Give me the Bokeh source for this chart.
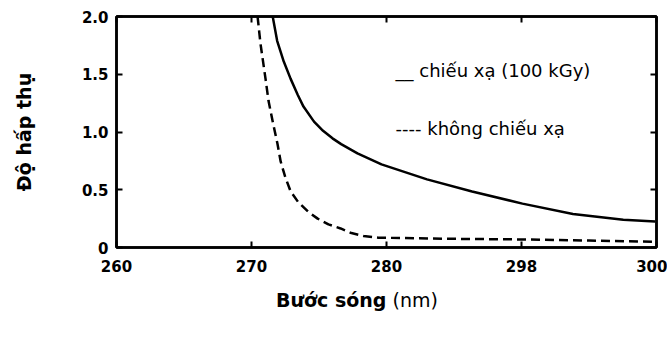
from bokeh.plotting import figure
from bokeh.models import Range1d, FixedTicker, LinearAxis, Label, Div
from bokeh.layouts import column
from bokeh.embed import file_html
from bokeh.resources import INLINE

# ---- data ----
irr_wl = [271.57, 271.9, 272.39, 272.9, 273.43, 273.85, 274.63, 275.3, 276.0, 276.64, 277.85, 279.63,
          283.0, 286.34, 290.07, 293.81, 297.54, 299.9]
irr_abs = [2.0, 1.79, 1.61, 1.46, 1.32, 1.22, 1.09, 1.01, 0.945, 0.895, 0.815, 0.72,
           0.59, 0.485, 0.38, 0.29, 0.24, 0.225]

non_wl = [270.45, 270.66, 271.04, 271.26, 271.57, 271.92, 272.16, 272.5, 272.9, 273.48, 274.2,
          274.9, 275.7, 276.6, 277.4, 278.3, 279.4, 285.0, 290.0, 295.0, 300.0]
non_abs = [2.0, 1.77, 1.46, 1.27, 1.09, 0.90, 0.745, 0.61, 0.485, 0.39, 0.31,
           0.25, 0.20, 0.165, 0.125, 0.10, 0.085, 0.075, 0.07, 0.06, 0.05]

x_ticks = [260, 270, 280, 290, 300]
x_tick_labels = ["260", "270", "280", "298", "300"]
y_ticks = [0, 0.5, 1.0, 1.5, 2.0]
y_tick_labels = ["0", "0.5", "1.0", "1.5", "2.0"]

legend_texts = ["__ chiếu xạ (100 kGy)", "---- không chiếu xạ"]
x_title_bold = "Bước sóng"
x_title_normal = "(nm)"
y_title = "Độ hấp thụ"

FONT = "DejaVu Sans"

p = figure(width=667, height=290, output_backend="svg", toolbar_location=None,
           x_range=Range1d(260, 300), y_range=Range1d(0, 2.0),
           min_border_left=116, min_border_right=11, min_border_top=16, min_border_bottom=43)
p.xgrid.visible = False
p.ygrid.visible = False
p.outline_line_color = "black"
p.outline_line_width = 2.5
p.background_fill_color = "white"
p.border_fill_color = "white"

p.line(irr_wl, irr_abs, line_color="black", line_width=2.5, line_join="round")
p.line(non_wl, non_abs, line_color="black", line_width=2.5, line_dash="9 5", line_join="round")

def style_axis(ax, ticks, labels, standoff=6):
    ax.ticker = FixedTicker(ticks=ticks)
    ax.major_label_overrides = {t: l for t, l in zip(ticks, labels)}
    ax.axis_line_width = 2.5
    ax.axis_line_color = "black"
    ax.major_tick_in = 6
    ax.major_tick_out = 0
    ax.major_tick_line_width = 2
    ax.minor_tick_line_color = None
    ax.major_label_text_font = FONT
    ax.major_label_text_font_style = "bold"
    ax.major_label_text_font_size = "15px"
    ax.major_label_text_color = "black"
    ax.major_label_standoff = standoff

style_axis(p.xaxis[0], x_ticks, x_tick_labels, standoff=12)
style_axis(p.yaxis[0], y_ticks, y_tick_labels, standoff=8)

p.yaxis[0].axis_label = y_title
p.yaxis[0].axis_label_text_font = FONT
p.yaxis[0].axis_label_text_font_style = "bold"
p.yaxis[0].axis_label_text_font_size = "19px"
p.yaxis[0].axis_label_text_color = "black"
p.yaxis[0].axis_label_standoff = 44

ax_top = LinearAxis()
style_axis(ax_top, x_ticks, [""] * len(x_ticks), standoff=0)
p.add_layout(ax_top, "above")
ax_right = LinearAxis()
style_axis(ax_right, y_ticks, [""] * len(y_ticks), standoff=0)
p.add_layout(ax_right, "right")

# legend-like texts
p.add_layout(Label(x=280.67, y=1.532, text=legend_texts[0], text_font=FONT, text_color="black",
                   text_font_size="18px", text_baseline="middle", text_align="left"))
p.add_layout(Label(x=280.67, y=1.03, text=legend_texts[1], text_font=FONT, text_color="black",
                   text_font_size="18px", text_baseline="middle", text_align="left"))

# x-axis title (bold + normal), as HTML text below the plot
title_div = Div(
    text=f'<span style="font-weight:bold">{x_title_bold}</span> {x_title_normal}',
    width=667, height=40, margin=(0, 0, 0, 0),
    styles={"font-family": FONT, "font-size": "19px", "line-height": "20px",
            "padding-left": "276px", "color": "black"},
)

layout = column(p, title_div, spacing=0)
open("out.html", "w").write(file_html(layout, INLINE))
